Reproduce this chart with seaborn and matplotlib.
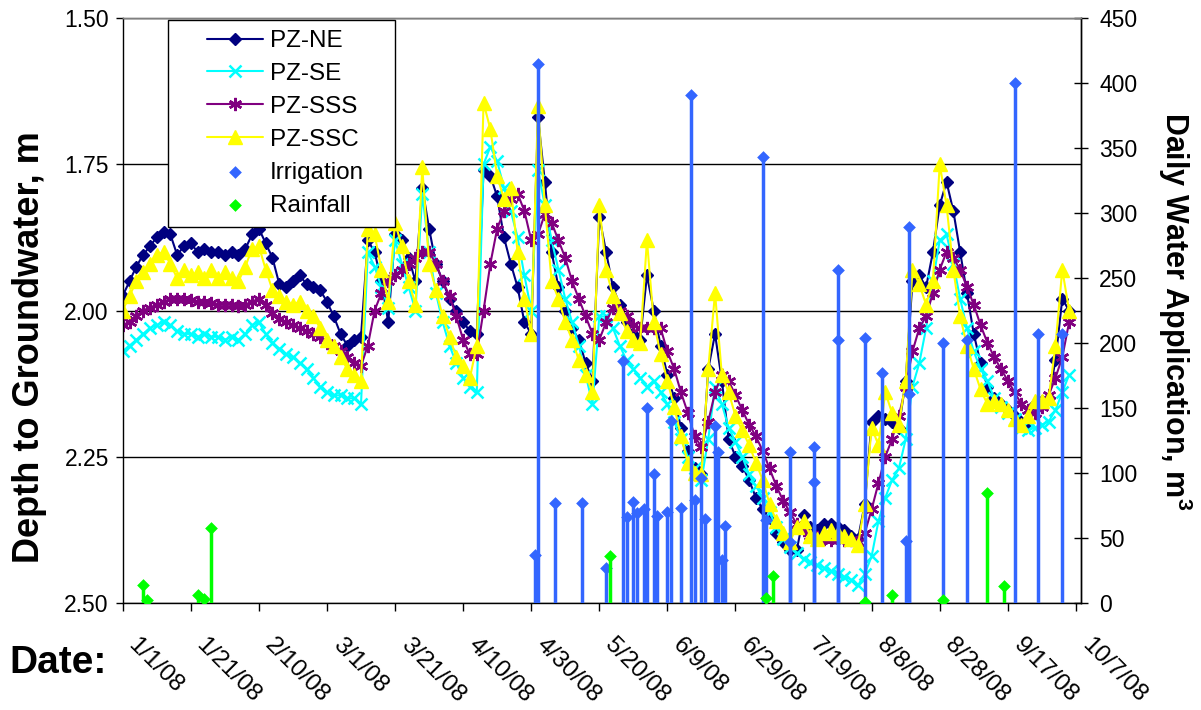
import numpy as np
import pandas as pd
import matplotlib
matplotlib.use("Agg")
import matplotlib.pyplot as plt
import seaborn as sns
from matplotlib.patches import Rectangle
from matplotlib.transforms import ScaledTranslation

sns.set_style("ticks")
plt.rcParams['font.family'] = ['Liberation Sans', 'DejaVu Sans']
plt.rcParams['mathtext.fontset'] = 'custom'
plt.rcParams['mathtext.rm'] = 'Liberation Sans'
plt.rcParams['mathtext.bf'] = 'Liberation Sans:bold'
for k in ['text.color', 'axes.labelcolor', 'xtick.color', 'ytick.color', 'axes.edgecolor']:
    plt.rcParams[k] = 'black'

# ---------------- data ----------------
pz_dates = pd.date_range("2008-01-01", periods=140, freq="2D")

pz_ne = [1.975, 1.95, 1.925, 1.905, 1.89, 1.875, 1.865, 1.87, 1.905, 1.89,
         1.885, 1.90, 1.895, 1.90, 1.90, 1.905, 1.90, 1.905, 1.895, 1.87,
         1.86, 1.885, 1.91, 1.955, 1.96, 1.95, 1.94, 1.955, 1.96, 1.965,
         1.985, 2.01, 2.04, 2.06, 2.05, 2.045, 1.88, 1.90, 1.95, 2.02,
         1.87, 1.88, 1.91, 1.95, 1.79, 1.86, 1.92, 1.95, 1.98, 2.00,
         2.02, 2.035, 2.04, 1.76, 1.77, 1.805, 1.875, 1.92, 1.96, 2.02,
         2.04, 1.67, 1.78, 1.90, 1.96, 2.00, 2.03, 2.05, 2.09, 2.12,
         1.84, 1.90, 1.96, 1.99, 2.02, 2.04, 2.05, 1.94, 2.00, 2.06,
         2.11, 2.15, 2.20, 2.24, 2.27, 2.28, 2.10, 2.04, 2.12, 2.22,
         2.25, 2.265, 2.29, 2.32, 2.34, 2.355, 2.38, 2.395, 2.41, 2.41,
         2.35, 2.37, 2.375, 2.365, 2.365, 2.37, 2.375, 2.385, 2.39, 2.33,
         2.19, 2.18, 2.185, 2.19, 2.20, 2.12, 1.95, 1.94, 1.96, 1.90,
         1.82, 1.78, 1.83, 1.90, 1.97, 2.04, 2.09, 2.13, 2.15, 2.16,
         2.17, 2.18, 2.19, 2.19, 2.16, 2.155, 2.15, 2.085, 1.98, 2.00]

pz_se = [2.07, 2.06, 2.05, 2.04, 2.03, 2.025, 2.02, 2.025, 2.035, 2.04,
         2.04, 2.045, 2.04, 2.045, 2.045, 2.05, 2.045, 2.05, 2.04, 2.025,
         2.02, 2.04, 2.055, 2.065, 2.075, 2.08, 2.09, 2.10, 2.115, 2.13,
         2.14, 2.145, 2.145, 2.15, 2.15, 2.16, 1.90, 1.925, 1.96, 1.995,
         1.88, 1.92, 1.96, 2.00, 1.80, 1.90, 1.97, 2.02, 2.06, 2.09,
         2.115, 2.13, 2.14, 1.75, 1.72, 1.745, 1.79, 1.83, 1.875, 1.94,
         2.00, 1.76, 1.82, 1.88, 1.93, 1.98, 2.02, 2.06, 2.11, 2.16,
         2.01, 2.01, 2.03, 2.06, 2.085, 2.10, 2.115, 2.13, 2.12, 2.14,
         2.16, 2.19, 2.22, 2.25, 2.27, 2.29, 2.22, 2.13, 2.16, 2.20,
         2.225, 2.25, 2.28, 2.30, 2.32, 2.345, 2.37, 2.39, 2.405, 2.415,
         2.425, 2.43, 2.435, 2.44, 2.445, 2.45, 2.455, 2.46, 2.47, 2.45,
         2.42, 2.36, 2.32, 2.29, 2.27, 2.22, 2.13, 2.09, 2.03, 1.95,
         1.88, 1.87, 1.92, 1.98, 2.03, 2.07, 2.10, 2.12, 2.15, 2.165,
         2.175, 2.185, 2.20, 2.205, 2.20, 2.195, 2.19, 2.17, 2.14, 2.11]

pz_sss = [2.025, 2.02, 2.01, 2.00, 1.995, 1.99, 1.985, 1.98, 1.98, 1.98,
          1.982, 1.985, 1.985, 1.987, 1.99, 1.99, 1.99, 1.992, 1.99, 1.985,
          1.98, 1.99, 2.005, 2.015, 2.02, 2.025, 2.03, 2.035, 2.04, 2.045,
          2.055, 2.06, 2.07, 2.08, 2.09, 2.095, 2.06, 2.00, 1.97, 1.95,
          1.94, 1.93, 1.92, 1.91, 1.90, 1.90, 1.92, 1.95, 1.975, 2.01,
          2.05, 2.075, 2.075, 2.00, 1.92, 1.86, 1.83, 1.81, 1.80, 1.83,
          1.88, 1.87, 1.835, 1.85, 1.88, 1.91, 1.95, 1.98, 2.01, 2.04,
          2.05, 2.02, 1.995, 2.00, 2.01, 2.025, 2.03, 2.03, 2.03, 2.03,
          2.07, 2.10, 2.14, 2.175, 2.215, 2.233, 2.19, 2.14, 2.11, 2.12,
          2.145, 2.17, 2.195, 2.215, 2.24, 2.27, 2.30, 2.325, 2.345, 2.365,
          2.375, 2.385, 2.388, 2.39, 2.392, 2.392, 2.392, 2.392, 2.395, 2.38,
          2.34, 2.295, 2.25, 2.22, 2.18, 2.13, 2.07, 2.03, 2.01, 1.97,
          1.93, 1.90, 1.91, 1.93, 1.96, 1.99, 2.025, 2.055, 2.08, 2.10,
          2.12, 2.14, 2.16, 2.17, 2.175, 2.165, 2.145, 2.115, 2.08, 2.02]

pz_ssc = [2.00, 1.975, 1.95, 1.935, 1.92, 1.905, 1.90, 1.92, 1.945, 1.93,
          1.94, 1.935, 1.945, 1.93, 1.945, 1.935, 1.945, 1.95, 1.925, 1.895,
          1.89, 1.93, 1.965, 1.975, 1.985, 1.99, 1.985, 2.00, 2.01, 2.03,
          2.05, 2.06, 2.08, 2.10, 2.11, 2.12, 1.86, 1.87, 1.93, 1.985,
          1.85, 1.89, 1.95, 1.99, 1.755, 1.92, 1.965, 2.01, 2.045, 2.08,
          2.095, 2.115, 2.06, 1.645, 1.69, 1.77, 1.81, 1.79, 1.90, 1.98,
          2.04, 1.65, 1.82, 1.95, 1.98, 2.02, 2.05, 2.085, 2.11, 2.14,
          1.82, 1.93, 1.975, 2.005, 2.035, 2.05, 2.055, 1.88, 2.02, 2.075,
          2.12, 2.165, 2.215, 2.26, 2.278, 2.28, 2.10, 1.97, 2.11, 2.14,
          2.18, 2.205, 2.23, 2.26, 2.29, 2.33, 2.36, 2.38, 2.395, 2.37,
          2.36, 2.385, 2.39, 2.38, 2.375, 2.38, 2.385, 2.39, 2.40, 2.33,
          2.20, 2.23, 2.14, 2.175, 2.195, 2.12, 1.93, 1.955, 1.99, 1.95,
          1.75, 1.82, 1.93, 2.01, 2.06, 2.10, 2.135, 2.16, 2.155, 2.16,
          2.17, 2.185, 2.195, 2.18, 2.155, 2.155, 2.15, 2.06, 1.93, 2.00]

irr_dates = ["2008-05-01", "2008-05-02", "2008-05-07", "2008-05-15", "2008-05-22",
             "2008-05-27", "2008-05-28", "2008-05-30", "2008-05-31", "2008-06-02",
             "2008-06-03", "2008-06-05", "2008-06-06", "2008-06-09", "2008-06-10",
             "2008-06-13", "2008-06-16", "2008-06-17", "2008-06-19", "2008-06-20",
             "2008-06-23", "2008-06-24", "2008-06-25", "2008-06-26", "2008-07-07",
             "2008-07-08", "2008-07-15", "2008-07-15", "2008-07-22", "2008-07-22",
             "2008-07-29", "2008-07-29", "2008-08-06", "2008-08-11", "2008-08-18",
             "2008-08-19", "2008-08-19", "2008-08-29", "2008-09-05", "2008-09-19",
             "2008-09-26", "2008-10-03"]
irr_vals = [37, 415, 77, 77, 27, 186, 66, 78, 69, 72,
            150, 99, 67, 70, 140, 73, 391, 79, 96, 65,
            136, 116, 33, 59, 343, 64, 47, 116, 120, 93,
            256, 202, 204, 177, 48, 289, 161, 200, 202, 400,
            207, 207]

rain_dates = ["2008-01-07", "2008-01-08", "2008-01-23", "2008-01-25", "2008-01-27",
              "2008-05-23", "2008-07-08", "2008-07-10", "2008-08-06", "2008-08-14",
              "2008-08-29", "2008-09-11", "2008-09-16"]
rain_vals = [14, 2, 6, 3, 58, 36, 4, 21, 1, 6, 2, 85, 13]

x_ticks = pd.date_range("2008-01-01", "2008-10-07", freq="20D")
x_tick_labels = [f"{d.month}/{d.day}/{d:%y}" for d in x_ticks]
depth_ticks = [1.50, 1.75, 2.00, 2.25, 2.50]
depth_tick_labels = ["1.50", "1.75", "2.00", "2.25", "2.50"]
water_ticks = [0, 50, 100, 150, 200, 250, 300, 350, 400, 450]

# ---------------- figure ----------------
W, H = 1201, 710
fig = plt.figure(figsize=(W / 100, H / 100), dpi=100)
L, R, T, B = 122.7, 1081, 18, 603
ax1 = fig.add_axes([L / W, 1 - B / H, (R - L) / W, (B - T) / H])
ax2 = ax1.twinx()

series = [
    ("PZ-NE", pz_ne, "#000080", "D", 6.5, 1.0),
    ("PZ-SE", pz_se, "#00FFFF", "x", 9.0, 1.8),
    ("PZ-SSS", pz_sss, "#800080", (6, 2, 0), 9.5, 1.8),
    ("PZ-SSC", pz_ssc, "#FFFF00", "^", 10.5, 1.0),
]
for name, vals, color, marker, ms, mew in series:
    sns.lineplot(x=pz_dates, y=vals, ax=ax1, color=color, marker=marker,
                 markersize=ms, markeredgecolor=color, markerfacecolor=color,
                 markeredgewidth=mew, linewidth=1.5, label=name)

irr_dt = pd.to_datetime(irr_dates)
rain_dt = pd.to_datetime(rain_dates)
ax2.vlines(irr_dt, 0, irr_vals, color="#3366FF", lw=2.5, zorder=2)
sns.scatterplot(x=irr_dt, y=irr_vals, ax=ax2, marker="D", s=42, color="#3366FF",
                edgecolor="#3366FF", linewidth=0, label="Irrigation", zorder=3)
ax2.vlines(rain_dt, 0, rain_vals, color="#00FF00", lw=2.5, zorder=4)
sns.scatterplot(x=rain_dt, y=rain_vals, ax=ax2, marker="D", s=42, color="#00FF00",
                edgecolor="#00FF00", linewidth=0, label="Rainfall", zorder=5)

for ax in (ax1, ax2):
    if ax.get_legend() is not None:
        ax.get_legend().remove()
    ax.set_xlabel("")
    ax.set_ylabel("")

# axes limits and ticks
start = pd.Timestamp("2008-01-01")
ax1.set_xlim(start, start + pd.Timedelta(days=281.5))
ax1.set_ylim(2.5, 1.5)
ax1.set_yticks(depth_ticks)
ax1.set_yticklabels(depth_tick_labels)
ax2.set_ylim(0, 450)
ax2.set_yticks(water_ticks)
ax1.set_xticks(x_ticks)
ax1.set_xticklabels(x_tick_labels, rotation=-45, ha="left", va="center",
                    rotation_mode="anchor")

ax1.tick_params(axis="y", direction="out", length=5, width=1, labelsize=16.5, pad=5)
ax1.tick_params(axis="x", direction="out", length=6, width=1, labelsize=17.5, pad=22)
ax2.tick_params(axis="y", direction="inout", length=10, width=1, labelsize=16.5, pad=8)

offset = ScaledTranslation(9 / 100, 0, fig.dpi_scale_trans)
for lbl in ax1.get_xticklabels():
    lbl.set_transform(lbl.get_transform() + offset)

ax1.grid(axis="y", color="black", lw=1)
ax1.grid(axis="x", visible=False)
ax1.set_axisbelow(True)

for ax in (ax1, ax2):
    for s in ax.spines.values():
        s.set_linewidth(1)
        s.set_color("black")
    ax.spines["top"].set_color("#808080")
ax2.spines["left"].set_visible(False)
ax2.spines["bottom"].set_visible(False)

# axis titles
fig.text(30 / W, 1 - 347 / H, "Depth to Groundwater, m", rotation=90,
         ha="center", va="center", fontsize=26, fontweight="bold")
fig.text(1175 / W, 1 - 311 / H, r"Daily Water Application, m$^\mathbf{3}$",
         rotation=-90, ha="center", va="center", fontsize=22, fontweight="bold")
fig.text(9 / W, 1 - 663 / H, "Date:", ha="left", va="center",
         fontsize=28, fontweight="bold")

# legend with square frame
fig.add_artist(Rectangle((168 / W, 1 - 227 / H), (395 - 168) / W, (227 - 20) / H,
                         transform=fig.transFigure, facecolor="white",
                         edgecolor="black", lw=1, zorder=10))
h1, l1 = ax1.get_legend_handles_labels()
h2, l2 = ax2.get_legend_handles_labels()
leg = fig.legend(h1 + h2, l1 + l2, loc="upper left",
                 bbox_to_anchor=(207 / W, 1 - 30 / H), bbox_transform=fig.transFigure,
                 frameon=False, fontsize=17.5, borderpad=0, borderaxespad=0,
                 handlelength=2.3, handletextpad=0.3, labelspacing=0.45,
                 numpoints=1, scatterpoints=1)
leg.set_zorder(11)

fig.savefig("out.png", dpi=100)
